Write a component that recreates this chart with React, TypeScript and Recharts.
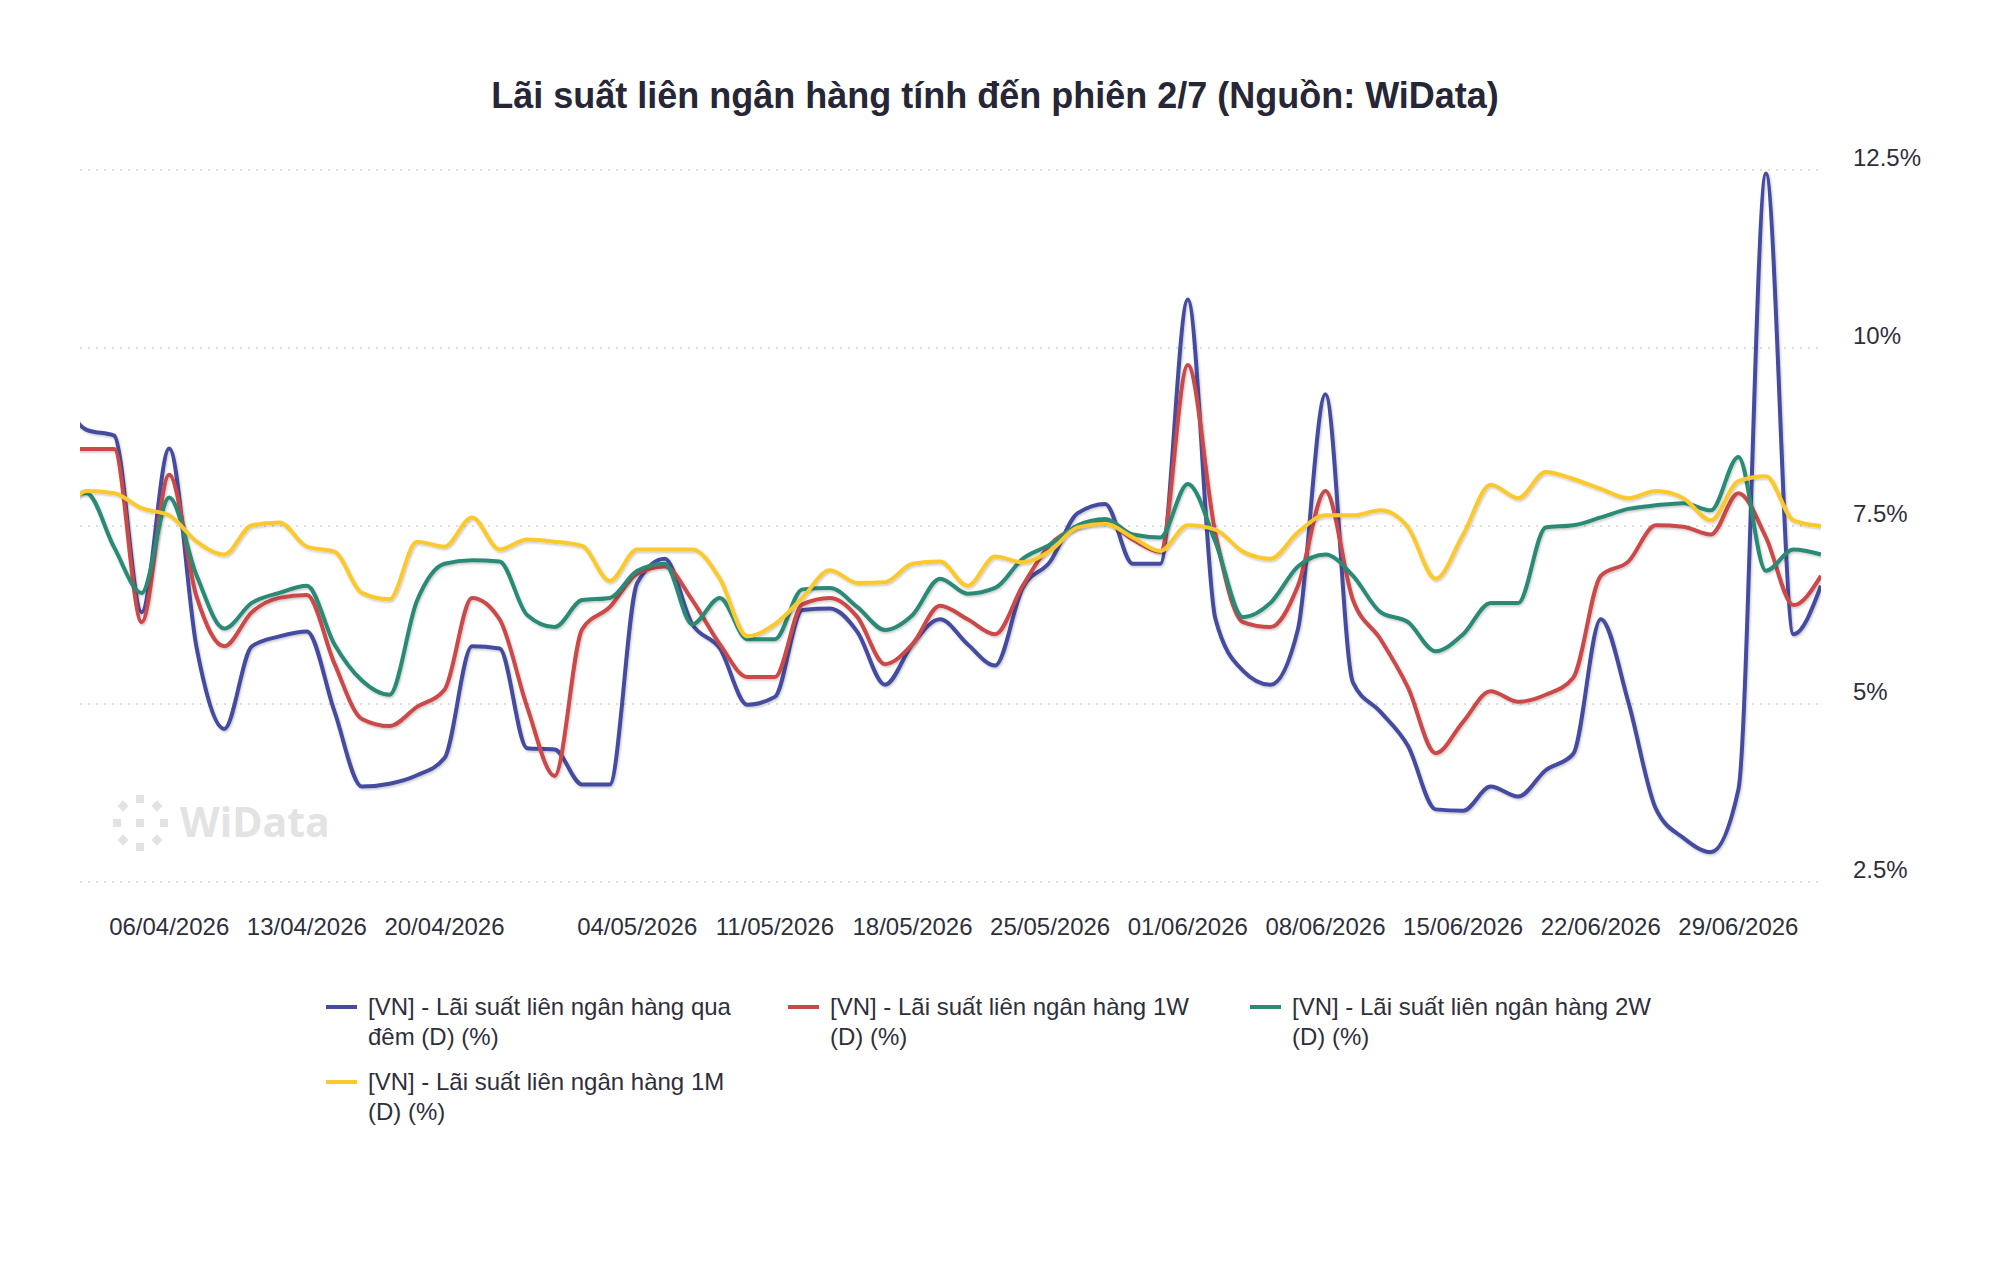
import { CartesianGrid, Legend, Line, LineChart, XAxis, YAxis } from 'recharts';

const DATES = [
  '31/03/2026', '01/04/2026', '02/04/2026', '03/04/2026',
  '06/04/2026', '07/04/2026', '08/04/2026', '09/04/2026', '10/04/2026',
  '13/04/2026', '14/04/2026', '15/04/2026', '16/04/2026', '17/04/2026',
  '20/04/2026', '21/04/2026', '22/04/2026', '23/04/2026', '24/04/2026',
  '28/04/2026', '29/04/2026',
  '04/05/2026', '05/05/2026', '06/05/2026', '07/05/2026', '08/05/2026',
  '11/05/2026', '12/05/2026', '13/05/2026', '14/05/2026', '15/05/2026',
  '18/05/2026', '19/05/2026', '20/05/2026', '21/05/2026', '22/05/2026',
  '25/05/2026', '26/05/2026', '27/05/2026', '28/05/2026', '29/05/2026',
  '01/06/2026', '02/06/2026', '03/06/2026', '04/06/2026', '05/06/2026',
  '08/06/2026', '09/06/2026', '10/06/2026', '11/06/2026', '12/06/2026',
  '15/06/2026', '16/06/2026', '17/06/2026', '18/06/2026', '19/06/2026',
  '22/06/2026', '23/06/2026', '24/06/2026', '25/06/2026', '26/06/2026',
  '29/06/2026', '30/06/2026', '01/07/2026', '02/07/2026',
];

const TICK_DATES = [
  '06/04/2026', '13/04/2026', '20/04/2026', '04/05/2026', '11/05/2026', '18/05/2026',
  '25/05/2026', '01/06/2026', '08/06/2026', '15/06/2026', '22/06/2026', '29/06/2026',
];

const Y_TICKS = [2.5, 5, 7.5, 10, 12.5];

// qua đêm
const OVERNIGHT = [
  9.4, 8.85, 8.77, 6.29,
  8.59, 5.78, 4.65, 5.81, 5.95,
  6.02, 4.9, 3.84, 3.88, 4.0,
  4.24, 5.81, 5.78, 4.38, 4.36,
  3.87, 3.87,
  6.7, 7.04, 6.12, 5.78, 4.99,
  5.1, 6.32, 6.34, 6.01, 5.27,
  5.84, 6.19, 5.84, 5.54, 6.63,
  7.0, 7.68, 7.81, 6.97, 6.97,
  10.68, 6.2, 5.47, 5.27, 6.05,
  9.35, 5.3, 4.89, 4.41, 3.52,
  3.5, 3.84, 3.7, 4.07, 4.3,
  6.19, 5.03, 3.53, 3.12, 2.92,
  3.8, 12.45, 5.98, 6.66,
];

// 1 tuần
const WEEK_1 = [
  8.6, 8.58, 8.58, 6.15,
  8.22, 6.5, 5.81, 6.29, 6.49,
  6.53, 5.57, 4.79, 4.69, 4.96,
  5.2, 6.49, 6.19, 4.96, 3.99,
  6.05, 6.36,
  6.83, 6.93, 6.46, 5.84, 5.38,
  5.38, 6.4, 6.49, 6.22, 5.56,
  5.84, 6.38, 6.19, 5.98, 6.66,
  7.24, 7.48, 7.55, 7.31, 7.14,
  9.76, 7.4, 6.15, 6.08, 6.66,
  7.99, 6.46, 5.91, 5.23, 4.31,
  4.75, 5.18, 5.03, 5.13, 5.37,
  6.8, 7.0, 7.51, 7.49, 7.38,
  7.96, 7.34, 6.39, 6.8,
];

// 2 tuần
const WEEK_2 = [
  7.9, 7.96, 7.2, 6.56,
  7.9, 6.8, 6.06, 6.42, 6.56,
  6.66, 5.84, 5.33, 5.13, 6.45,
  6.97, 7.02, 7.0, 6.25, 6.08,
  6.46, 6.49,
  6.87, 6.97, 6.12, 6.49, 5.91,
  5.91, 6.61, 6.63, 6.36, 6.04,
  6.25, 6.76, 6.55, 6.63, 7.04,
  7.24, 7.51, 7.6, 7.38, 7.34,
  8.09, 7.28, 6.22, 6.42, 6.93,
  7.1, 6.8, 6.29, 6.15, 5.74,
  5.98, 6.42, 6.42, 7.48, 7.51,
  7.62, 7.74, 7.79, 7.82, 7.72,
  8.47, 6.87, 7.17, 7.1,
];

// 1 tháng
const MONTH_1 = [
  7.5, 7.99, 7.96, 7.75,
  7.65, 7.28, 7.1, 7.51, 7.55,
  7.21, 7.14, 6.56, 6.47, 7.28,
  7.21, 7.62, 7.17, 7.31, 7.28,
  7.22, 6.73,
  7.17, 7.17, 7.17, 6.76, 5.95,
  6.12, 6.49, 6.88, 6.7, 6.71,
  6.97, 7.0, 6.66, 7.07, 6.99,
  7.15, 7.48, 7.53, 7.34, 7.15,
  7.51, 7.45, 7.14, 7.04, 7.41,
  7.65, 7.65, 7.72, 7.48, 6.76,
  7.38, 8.08, 7.89, 8.26, 8.16,
  8.02, 7.89, 7.99, 7.89, 7.58,
  8.13, 8.2, 7.58, 7.5,
];

const SERIES = [
  { key: 'overnight', name: '[VN] - Lãi suất liên ngân hàng qua đêm (D) (%)', color: '#454c9f', values: OVERNIGHT },
  { key: 'w1', name: '[VN] - Lãi suất liên ngân hàng 1W (D) (%)', color: '#cb4848', values: WEEK_1 },
  { key: 'w2', name: '[VN] - Lãi suất liên ngân hàng 2W (D) (%)', color: '#2a8a76', values: WEEK_2 },
  { key: 'm1', name: '[VN] - Lãi suất liên ngân hàng 1M (D) (%)', color: '#fbc92e', values: MONTH_1 },
];

const data = DATES.map((date, i) => {
  const row: Record<string, number | string> = { i, date };
  SERIES.forEach((s) => {
    row[s.key] = s.values[i];
  });
  return row;
});

const tickIndexes = TICK_DATES.map((d) => DATES.indexOf(d));

const FONT = '"Liberation Sans", Arial, Helvetica, sans-serif';
const TEXT_COLOR = '#2f2f3c';
const X_START = 0.76; // visible window starts between 31/03 and 01/04

function XTick({ x, payload }: any) {
  return (
    <text x={x} y={935} textAnchor="middle" fill={TEXT_COLOR} fontSize={24} fontFamily={FONT}>
      {DATES[payload.value]}
    </text>
  );
}

function YTick({ y, payload }: any) {
  return (
    <text x={1853} y={y - 4} textAnchor="start" fill={TEXT_COLOR} fontSize={24} fontFamily={FONT}>
      {`${payload.value}%`}
    </text>
  );
}

function LegendContent() {
  return (
    <div
      style={{
        display: 'flex',
        flexWrap: 'wrap',
        width: 3 * 462,
        marginLeft: 326,
        fontFamily: FONT,
        fontSize: 24,
        lineHeight: '30px',
        color: TEXT_COLOR,
        textAlign: 'left',
      }}
    >
      {SERIES.map((s) => (
        <div key={s.key} style={{ width: 462, display: 'flex', marginBottom: 15 }}>
          <span style={{ width: 31, height: 4, background: s.color, marginTop: 13, flexShrink: 0 }} />
          <span style={{ marginLeft: 11, width: 380 }}>{s.name}</span>
        </div>
      ))}
    </div>
  );
}

function Watermark() {
  const c = 140;
  const m = 823;
  const sq = [
    [0, -24, 0], [24, 0, 0], [0, 24, 0], [-23, 0, 0], [0, 0, 0],
    [-17, -17, 45], [17, -17, 45], [17, 17, 45], [-17, 17, 45],
  ];
  return (
    <div style={{ position: 'absolute', left: 0, top: 0, width: 2000, height: 1262, pointerEvents: 'none' }}>
      <svg width={2000} height={1262} style={{ position: 'absolute', left: 0, top: 0 }}>
        {sq.map(([dx, dy, r], k) => (
          <rect
            key={k}
            x={c + dx - 4}
            y={m + dy - 4}
            width={8}
            height={8}
            fill="#e3e3e3"
            transform={r ? `rotate(45 ${c + dx} ${m + dy})` : undefined}
          />
        ))}
        <text x={180} y={837} fill="#e3e3e3" fontSize={41} fontWeight={700} fontFamily='"Open Sans", "Noto Sans", sans-serif'>
          WiData
        </text>
      </svg>
    </div>
  );
}

export default function App() {
  return (
    <div style={{ position: 'absolute', left: 0, top: 0, width: 2000, height: 1262, background: '#ffffff' }}>
      <svg width={0} height={0} style={{ position: 'absolute' }}>
        <defs>
          <filter id="lineShadow" x="-5%" y="-10%" width="110%" height="130%">
            <feDropShadow dx={1} dy={1.5} stdDeviation={1.2} floodColor="#000000" floodOpacity={0.22} />
          </filter>
        </defs>
      </svg>
      <div
        style={{
          position: 'absolute',
          left: 0,
          top: 78,
          width: 1990,
          textAlign: 'center',
          fontFamily: FONT,
          fontSize: 36,
          lineHeight: '36px',
          fontWeight: 700,
          color: '#262636',
        }}
      >
        Lãi suất liên ngân hàng tính đến phiên 2/7 (Nguồn: WiData)
      </div>
      <Watermark />
      <div style={{ position: 'absolute', left: 0, top: 0 }}>
        <LineChart width={2000} height={1262} data={data} margin={{ top: 170, right: 79, bottom: 320, left: 80 }}>
          <CartesianGrid vertical={false} stroke="#dedede" strokeWidth={2} strokeDasharray="2 6" />
          <XAxis
            type="number"
            dataKey="i"
            domain={[X_START, DATES.length - 1]}
            allowDataOverflow
            ticks={tickIndexes}
            interval={0}
            height={60}
            axisLine={false}
            tickLine={false}
            tick={<XTick />}
          />
          <YAxis
            orientation="right"
            domain={[2.5, 12.5]}
            ticks={Y_TICKS}
            width={100}
            axisLine={false}
            tickLine={false}
            tick={<YTick />}
          />
          {SERIES.map((s) => (
            <Line
              key={s.key}
              type="monotone"
              dataKey={s.key}
              name={s.name}
              stroke={s.color}
              strokeWidth={4}
              dot={false}
              activeDot={false}
              filter="url(#lineShadow)"
              isAnimationActive={false}
            />
          ))}
          <Legend
            layout="horizontal"
            verticalAlign="middle"
            align="center"
            wrapperStyle={{ top: 992, left: 0, width: 2000 }}
            content={<LegendContent />}
          />
        </LineChart>
      </div>
    </div>
  );
}
